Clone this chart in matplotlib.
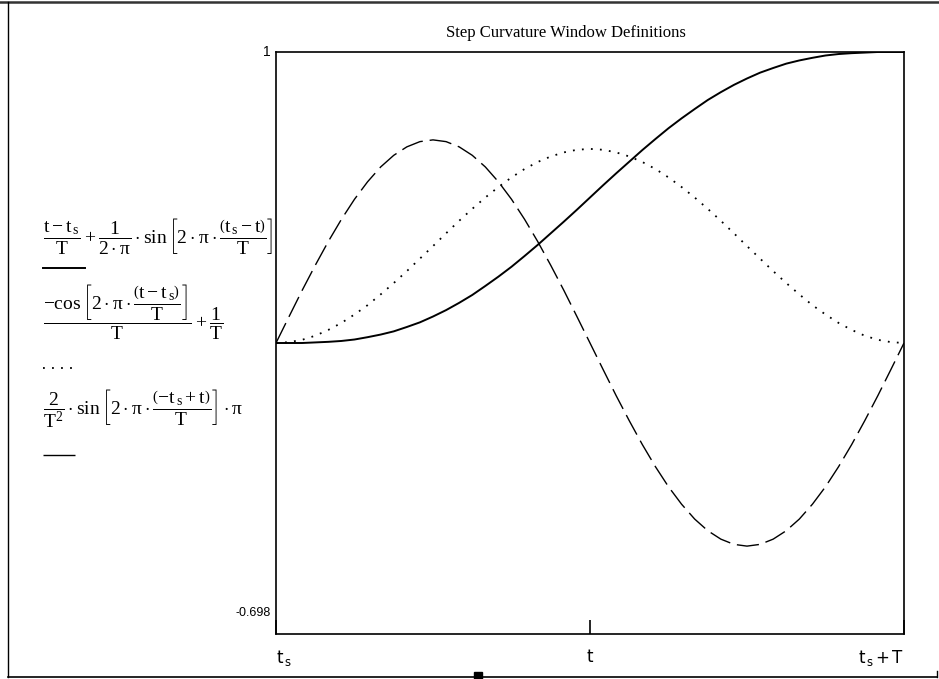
import matplotlib.pyplot as plt
from matplotlib.lines import Line2D
from matplotlib.patches import Rectangle

plt.rcParams['mathtext.fontset'] = 'custom'
plt.rcParams['mathtext.rm'] = 'Liberation Serif'
plt.rcParams['mathtext.it'] = 'Liberation Serif'
plt.rcParams['mathtext.default'] = 'rm'

# t measured from t_s, window length T = 3
t = [0.0, 0.0625, 0.125, 0.1875, 0.25, 0.3125, 0.375, 0.4375, 0.5, 0.5625,
     0.625, 0.6875, 0.75, 0.8125, 0.875, 0.9375, 1.0, 1.0625, 1.125, 1.1875,
     1.25, 1.3125, 1.375, 1.4375, 1.5, 1.5625, 1.625, 1.6875, 1.75, 1.8125,
     1.875, 1.9375, 2.0, 2.0625, 2.125, 2.1875, 2.25, 2.3125, 2.375, 2.4375,
     2.5, 2.5625, 2.625, 2.6875, 2.75, 2.8125, 2.875, 2.9375, 3.0]

step = [0.0, 0.0, 0.0, 0.002, 0.004, 0.007, 0.012, 0.020, 0.029, 0.040,
        0.055, 0.071, 0.091, 0.113, 0.138, 0.165, 0.196, 0.228, 0.262, 0.299,
        0.337, 0.377, 0.417, 0.458, 0.5, 0.542, 0.583, 0.623, 0.663, 0.701,
        0.738, 0.772, 0.804, 0.835, 0.862, 0.887, 0.909, 0.929, 0.945, 0.960,
        0.971, 0.980, 0.988, 0.993, 0.996, 0.998, 1.0, 1.0, 1.0]

slope = [0.0, 0.003, 0.011, 0.025, 0.045, 0.069, 0.098, 0.130, 0.167, 0.206,
         0.247, 0.290, 0.333, 0.377, 0.420, 0.461, 0.5, 0.536, 0.569, 0.598,
         0.622, 0.641, 0.655, 0.664, 0.667, 0.664, 0.655, 0.641, 0.622, 0.598,
         0.569, 0.536, 0.5, 0.461, 0.420, 0.377, 0.333, 0.290, 0.247, 0.206,
         0.167, 0.130, 0.098, 0.069, 0.045, 0.025, 0.011, 0.003, 0.0]

curv = [0.0, 0.091, 0.181, 0.267, 0.349, 0.425, 0.494, 0.554, 0.605, 0.645,
        0.674, 0.692, 0.698, 0.692, 0.674, 0.645, 0.605, 0.554, 0.494, 0.425,
        0.349, 0.267, 0.181, 0.091, 0.0, -0.091, -0.181, -0.267, -0.349,
        -0.425, -0.494, -0.554, -0.605, -0.645, -0.674, -0.692, -0.698,
        -0.692, -0.674, -0.645, -0.605, -0.554, -0.494, -0.425, -0.349,
        -0.267, -0.181, -0.091, 0.0]

xticks = [0.0, 1.5, 3.0]
xlabels = [r'$\mathregular{t_{\,s}}$', r'$\mathregular{t}$',
           r'$\mathregular{t_{\,s}+T}$']

legend_texts = [
    r'$\dfrac{t-t_{\,s}}{T}+\dfrac{1}{2\cdot\pi}\cdot\sin\left[2\cdot\pi\cdot'
    r'\dfrac{\left(t_{\,s}-t\right)}{T}\right]$',
    r'$\dfrac{-\cos\left[2\cdot\pi\cdot\dfrac{\left(t-t_{\,s}\right)}{T}\right]}'
    r'{T}+\dfrac{1}{T}$',
    r'$\dfrac{2}{T^2}\cdot\sin\left[2\cdot\pi\cdot'
    r'\dfrac{\left(-t_{\,s}+t\right)}{T}\right]\cdot\pi$',
]

W, H = 939, 679
fig = plt.figure(figsize=(W / 100, H / 100), dpi=100)
ax = fig.add_axes([276 / W, 1 - 634 / H, 628 / W, 582 / H])

ax.plot(t, step, color='black', lw=1.4)
ax.plot(t, slope, color='black', lw=1.3, dashes=(1, 4))
ax.plot(t, curv, color='black', lw=1.0, dashes=(16, 5))

ax.set_xlim(0, 3)
ax.set_ylim(-1, 1)
for s in ax.spines.values():
    s.set_linewidth(1.2)
ax.set_yticks([])
ax.set_xticks(xticks)
ax.set_xticklabels(xlabels, fontsize=12, family='DejaVu Sans')
ax.tick_params(axis='x', direction='in', length=10, width=1.2, pad=10)
lbls = ax.get_xticklabels()
lbls[0].set_ha('left')
lbls[-1].set_ha('right')

ax.text(-0.008, 1.0, '1', transform=ax.transAxes, ha='right', va='center',
        fontsize=10, family='Liberation Sans')
ax.text(-0.008, 0.036, '-0.698', transform=ax.transAxes, ha='right',
        va='center', fontsize=9, family='Liberation Sans')

fig.text(566 / W, 1 - 33 / H, 'Step Curvature Window Definitions',
         ha='center', va='center', fontsize=12, family='Liberation Serif')

# legend expressions with line samples underneath (Mathcad style)
leg_y = [236, 312, 409]
sample_y = [268, 368, 455]
sample_x1 = [85, 78, 75]
styles = [dict(lw=1.4), dict(lw=1.3, dashes=(1, 4)), dict(lw=1.0, dashes=(24, 5))]
for txt, ty, sy, x1, st in zip(legend_texts, leg_y, sample_y, sample_x1, styles):
    fig.text(43 / W, 1 - ty / H, txt, ha='left', va='center', fontsize=14)
    fig.add_artist(Line2D([43 / W, x1 / W], [1 - sy / H, 1 - sy / H],
                          color='black', **st))

# outer frame
fig.add_artist(Line2D([0, 1], [1 - 1.5 / H, 1 - 1.5 / H], color='#333333', lw=1.8))
fig.add_artist(Line2D([7.5 / W, 7.5 / W], [1 - 1.5 / H, 1 - 677 / H],
                      color='black', lw=1.0))
fig.add_artist(Line2D([7.5 / W, 937 / W], [1 - 677 / H, 1 - 677 / H],
                      color='black', lw=1.2))
fig.add_artist(Line2D([937 / W, 937 / W], [1 - 677 / H, 1 - 671 / H],
                      color='black', lw=1.0))
fig.add_artist(Rectangle((474 / W, 1 - 679 / H), 8 / W, 7 / H,
                         color='black', transform=fig.transFigure))

fig.savefig('out.png', dpi=100)
